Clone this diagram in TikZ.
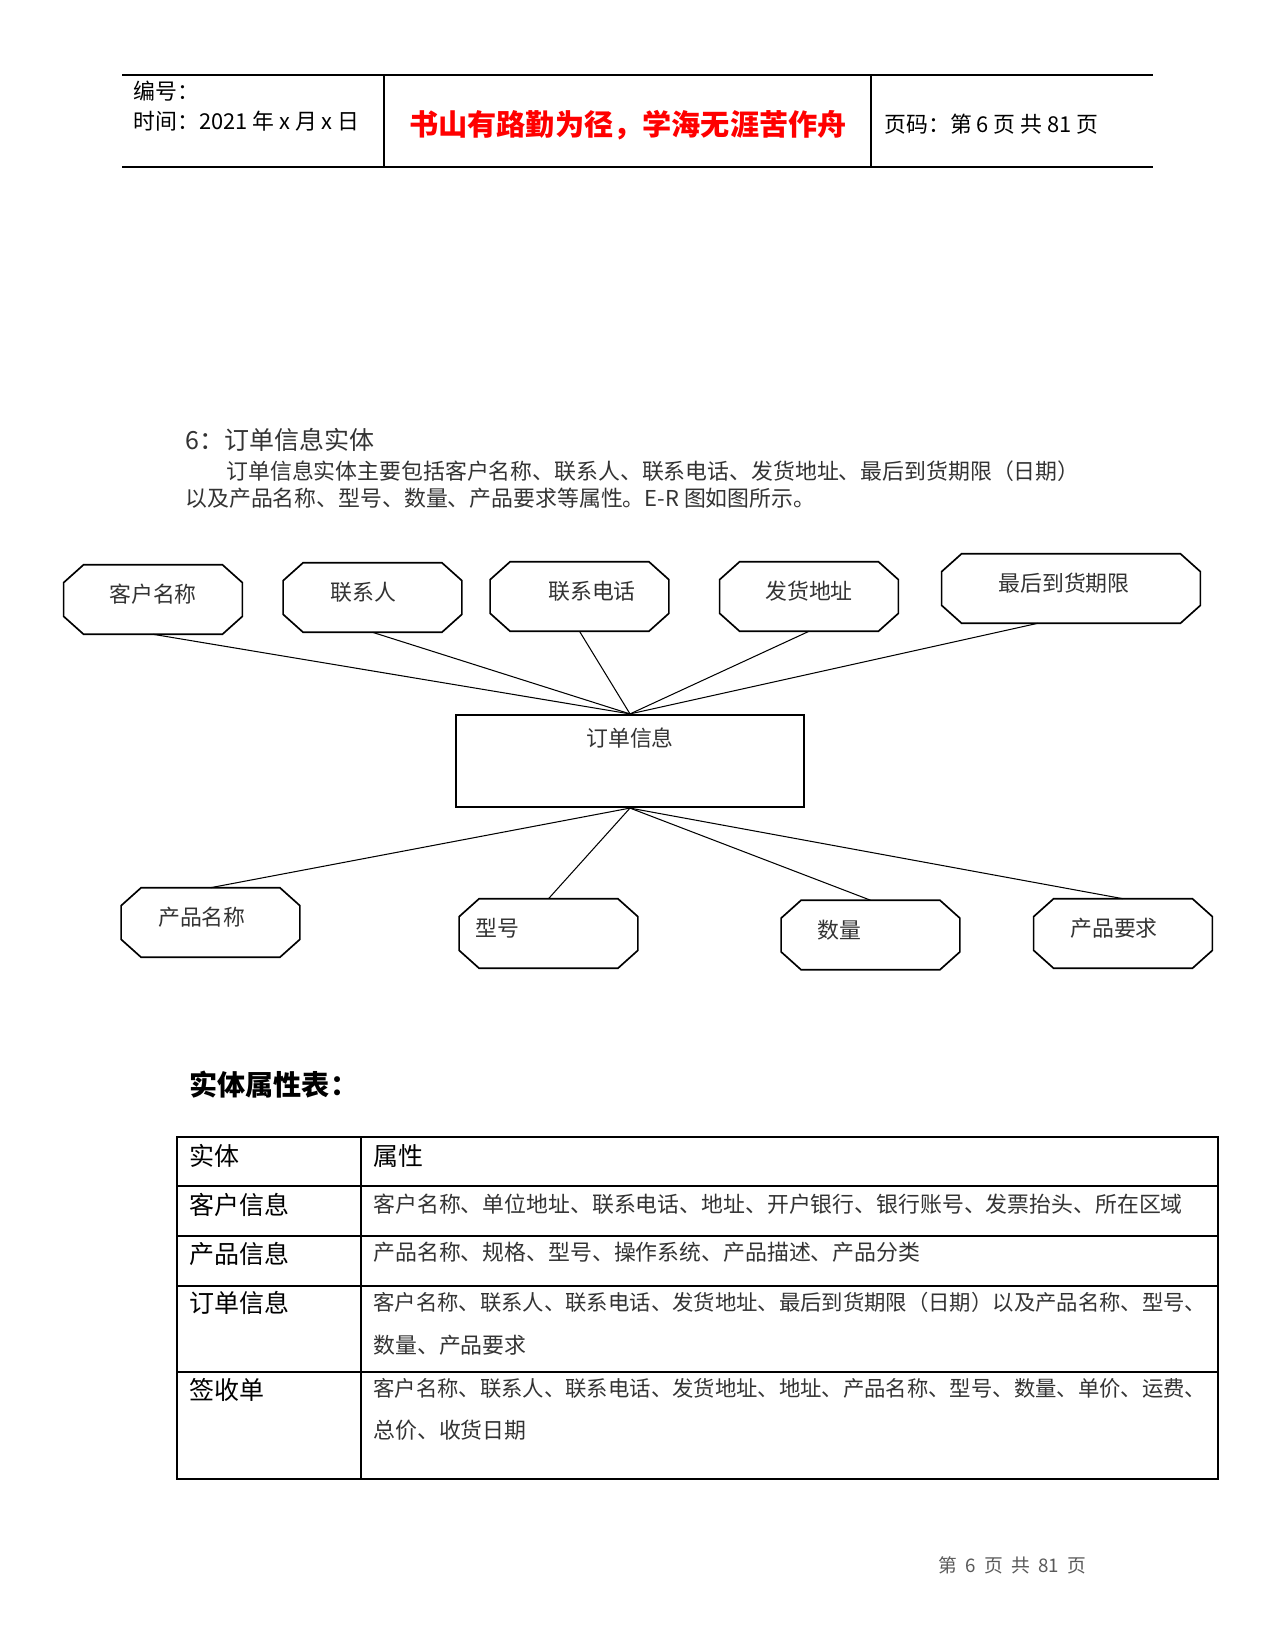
\documentclass[tikz,border=0pt]{standalone}
\usepackage{fontspec}
\setmainfont{Noto Sans CJK SC}
\usetikzlibrary{positioning, calc}

\tikzset{
    txt/.style={inner sep=0pt, anchor=west},
    body/.style={txt, font=\fontsize{10.5}{12}\selectfont, text=black!80},
    cell/.style={txt, font=\fontsize{12}{14}\selectfont},
    attr/.style={inner sep=0pt, minimum width=85.4pt, minimum height=33pt,
        text height=8.5pt, text depth=5.5pt, font=\fontsize{10.5}{12}\selectfont, text=black!80},
    entity/.style={draw, line width=1pt, inner sep=0pt, minimum width=167pt, minimum height=44.2pt,
        text height=8.5pt, text depth=22.5pt, font=\fontsize{10.5}{12}\selectfont, text=black!80},
    octline/.style={line width=0.8pt},
    link/.style={line width=0.5pt},
    rule/.style={line width=0.6pt},
}

% octagon drawn round a named node
\newcommand{\octframe}[1]{%
    \draw[octline] ($(#1.north west)+(9.6pt,0pt)$) -- ($(#1.north east)+(-9.6pt,0pt)$)
        -- ($(#1.north east)+(0pt,-8.6pt)$) -- ($(#1.south east)+(0pt,8.6pt)$)
        -- ($(#1.south east)+(-9.6pt,0pt)$) -- ($(#1.south west)+(9.6pt,0pt)$)
        -- ($(#1.south west)+(0pt,8.6pt)$) -- ($(#1.north west)+(0pt,-8.6pt)$) -- cycle;}

\begin{document}
\begin{tikzpicture}[x=0.48pt, y=-0.48pt]
    \useasboundingbox (0,0) rectangle (1275,1650);

    % header
    \draw[rule] (122,75) -- (1153,75);
    \draw[rule] (122,167) -- (1153,167);
    \draw[rule] (384,75) -- (384,167);
    \draw[rule] (871,75) -- (871,167);
    \node[txt, font=\fontsize{10.5}{12}\selectfont] (bh) at (133,91) {编号：};
    \node[txt, font=\fontsize{10.5}{12}\selectfont] (sj) at (133,121) {时间：2021 年 x 月 x 日};
    \node[inner sep=0pt, font=\fontsize{14}{16}\selectfont\bfseries, text=red] (motto) at (628,125) {书山有路勤为径，学海无涯苦作舟};
    \node[txt, font=\fontsize{10.5}{12}\selectfont] (ym) at (884,124) {页码：第 6 页 共 81 页};

    % section text
    \node[txt, font=\fontsize{12}{14}\selectfont, text=black!80] (title) at (185,440) {6：订单信息实体};
    \node[body] (p1) at (226,471) {订单信息实体主要包括客户名称、联系人、联系电话、发货地址、最后到货期限（日期）};
    \node[body] (p2) at (185,498) {以及产品名称、型号、数量、产品要求等属性。E-R 图如图所示。};

    % E-R diagram
    \node[attr] (khmc) at (153,599.5) {客户名称};
    \node[attr] (lxr) at (372.5,597.5) {联系人\hspace*{9pt}};
    \node[attr] (lxdh) at (579.5,596.5) {\hspace*{12pt}联系电话};
    \node[attr] (fhdz) at (809,596.5) {发货地址};
    \node[attr, minimum width=123.8pt] (zhdh) at (1071,588.5) {最后到货期限\hspace*{6.7pt}};

    \node[entity] (ddxx) at (630,761) {订单信息};

    \node[attr] (cpmc) at (210.5,922.5) {产品名称\hspace*{8.2pt}};
    \node[attr] (xh) at (548.5,933.5) {型号\hspace*{49.4pt}};
    \node[attr] (sl) at (870.5,935) {数量\hspace*{30.2pt}};
    \node[attr] (cpyq) at (1123,933.5) {产品要求\hspace*{8.6pt}};

    \foreach \n in {khmc,lxr,lxdh,fhdz,zhdh,cpmc,xh,sl,cpyq}
        \octframe{\n};

    \foreach \n in {khmc,lxr,lxdh,fhdz}
        \draw[link] (\n.south) -- (ddxx.north);
    \draw[link] ($(zhdh.south west)!0.372!(zhdh.south east)$) -- (ddxx.north);
    \foreach \n in {cpmc,xh,sl,cpyq}
        \draw[link] (ddxx.south) -- (\n.north);

    % attribute table
    \node[txt, font=\fontsize{13.5}{15}\selectfont\bfseries] (tab) at (189,1085) {实体属性表：};
    \draw[rule] (177,1137) rectangle (1218,1479);
    \draw[rule] (361,1137) -- (361,1479);
    \foreach \y in {1186,1236,1286,1372}
        \draw[rule] (177,\y) -- (1218,\y);

    \node[cell] (e0) at (189,1156) {实体};
    \node[cell] (a0) at (373,1156) {属性};
    \node[cell] (e1) at (189,1205) {客户信息};
    \node[cell] (e2) at (189,1254) {产品信息};
    \node[cell] (e3) at (189,1303) {订单信息};
    \node[cell] (e4) at (189,1390) {签收单};

    \node[body] (a1) at (373,1204) {客户名称、单位地址、联系电话、地址、开户银行、银行账号、发票抬头、所在区域};
    \node[body] (a2) at (373,1252) {产品名称、规格、型号、操作系统、产品描述、产品分类};
    \node[body, font=\fontsize{10.25}{12}\selectfont] (a3) at (373,1302) {客户名称、联系人、联系电话、发货地址、最后到货期限（日期）以及产品名称、型号、};
    \node[body] (a3b) at (373,1345) {数量、产品要求};
    \node[body, font=\fontsize{10.25}{12}\selectfont] (a4) at (373,1388) {客户名称、联系人、联系电话、发货地址、地址、产品名称、型号、数量、单价、运费、};
    \node[body] (a4b) at (373,1430) {总价、收货日期};

    % footer
    \node[txt, font=\fontsize{9}{11}\selectfont, text=black!65] (foot) at (938,1565)
        {第\hspace{4pt}6\hspace{4pt}页\hspace{4pt}共\hspace{4pt}81\hspace{4pt}页};
\end{tikzpicture}
\end{document}
